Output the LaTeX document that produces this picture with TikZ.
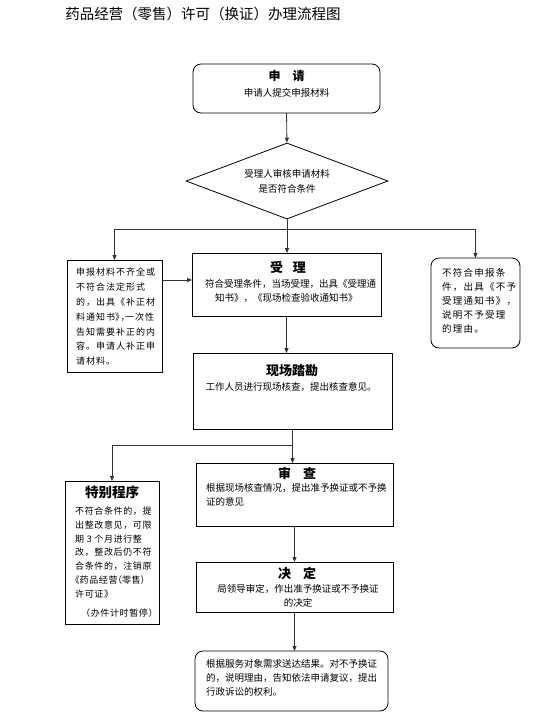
\documentclass[tikz,border=0pt]{standalone}
\usepackage{fontspec}
\setmainfont{Noto Sans CJK SC}
\usetikzlibrary{arrows.meta,shapes.geometric,calc}
\newcommand\bodyfont{\fontsize{9.5}{14}\selectfont}
\newcommand\ttlfont{\fontsize{13}{15}\selectfont\bfseries}
\newcommand\halfpunct[1]{{\addfontfeature{RawFeature=+halt}#1}}
\begin{document}
\begin{tikzpicture}[x=1pt,y=-1pt,
  frame/.style={draw=black,line width=0.8pt,inner sep=0pt,outer sep=0pt,anchor=north west},
  rframe/.style={frame,rounded corners=8pt},
  conn/.style={draw=black!80,line width=0.8pt},
  arr/.style={conn,-{Triangle[length=5pt,width=4pt]}},
  txt/.style={inner sep=0pt,font=\bodyfont},
  ttl/.style={inner sep=0pt,font=\ttlfont}]
\useasboundingbox (0,0) rectangle (543,716);
% heading
\node[inner sep=0pt,font=\fontsize{14.5}{16}\selectfont] (head) at (203,14) {药品经营（零售）许可（换证）办理流程图};
% frames
\node[rframe,minimum width=187pt,minimum height=49pt] (apply) at (193,64) {};
\node[draw=black,line width=0.8pt,diamond,shape aspect=2.66,minimum width=202pt,minimum height=76pt,inner sep=0pt,align=center,font=\bodyfont] (dia) at (287,181) {受理人审核申请材料\\[1pt]是否符合条件};
\node[frame,minimum width=95pt,minimum height=112pt] (L) at (67,260) {};
\node[frame,minimum width=189pt,minimum height=63pt] (acc) at (192,253) {};
\node[rframe,minimum width=89pt,minimum height=90pt] (R) at (431,258) {};
\node[frame,minimum width=199pt,minimum height=76pt] (site) at (193,353) {};
\node[frame,minimum width=94pt,minimum height=143pt] (S) at (65,481) {};
\node[frame,minimum width=197pt,minimum height=63pt] (rev) at (196,463) {};
\node[frame,minimum width=197pt,minimum height=50pt] (dec) at (196,562) {};
\node[rframe,minimum width=193pt,minimum height=60pt] (fin) at (195,651) {};
% texts
\node[ttl,font=\fontsize{12}{14}\selectfont\bfseries] (applyT) at ([yshift=-12pt]apply.north) {申\hspace{12pt}请};
\node[txt] (applyS) at ([yshift=-29pt]apply.north) {申请人提交申报材料};
\node[txt,font=\fontsize{9}{14.8}\selectfont\addfontfeature{LetterSpace=11},anchor=north west,align=left] (LT) at (76,268) {申报材料不齐全或\\不符合法定形式\\的，出具《补正材\\料通知书\halfpunct{》，}一次性\\告知需要补正的内\\容。申请人补正申\\请材料。};
\node[ttl] (accT) at (288,267) {受\hspace{10pt}理};
\node[txt,anchor=north west,align=left] (accS) at (205,279) {符合受理条件，当场受理，出具《受理通\\\hspace*{10pt}知书》，《现场检查验收通知书》};
\node[txt,font=\fontsize{9.5}{14}\selectfont\addfontfeature{LetterSpace=13},anchor=north west,align=left] (RT) at (442,268) {不符合申报条\\件，出具《不予\\受理通知书》，\\说明不予受理\\的理由。};
\node[ttl] (siteT) at (292,371) {现场踏勘};
\node[txt] (siteS) at (291,387) {工作人员进行现场核查，提出核查意见。};
\node[ttl,font=\fontsize{13.5}{15}\selectfont\bfseries] (ST) at (112,492) {特别程序};
\node[txt,font=\fontsize{9}{13.7}\selectfont\addfontfeature{LetterSpace=7},anchor=north west,align=left] (SS) at (75,507) {不符合条件的，提\\出整改意见，可限\\期 3 个月进行整\\改，整改后仍不符\\合条件的，注销原\\\halfpunct{《}药品经营\halfpunct{（}零售\halfpunct{）}\\许可证》\\[6pt]\hspace*{6pt}（办件计时暂停）};
\node[ttl] (revT) at (297,473) {审\hspace{12pt}查};
\node[txt,anchor=north west,align=left] (revS) at (206,483) {根据现场核查情况，提出准予换证或不予换\\证的意见};
\node[ttl] (decT) at (297,573) {决\hspace{12pt}定};
\node[txt,align=center] (decS) at (298,595.5) {局领导审定，作出准予换证或不予换证\\的决定};
\node[txt,anchor=north west,align=left] (finS) at (206,659) {根据服务对象需求送达结果。对不予换证\\的，说明理由，告知依法申请复议，提出\\行政诉讼的权利。};
% connectors
\draw[arr] (apply.south) -- (dia.north);
\coordinate (j1) at (287,229);
\draw[conn] (dia.south) -- (j1);
\draw[arr] (j1) -- (j1 |- acc.north);
\draw[arr] (j1) -| (L.north);
\draw[arr] (j1) -| (R.north);
\coordinate (p) at ($(L.north east)+(0,20)$);
\draw[arr] (p) -- (p -| acc.west);
\draw[arr] (acc.south) -- (acc.south |- site.north);
\coordinate (j2) at ($(site.south)+(0,16)$);
\draw[arr] (site.south) -- (j2) -- (j2 |- rev.north);
\draw[arr] (j2) -| (S.north);
\draw[arr] (rev.south) -- (dec.north);
\draw[arr] (dec.south) -- (dec.south |- fin.north);
\end{tikzpicture}
\end{document}
